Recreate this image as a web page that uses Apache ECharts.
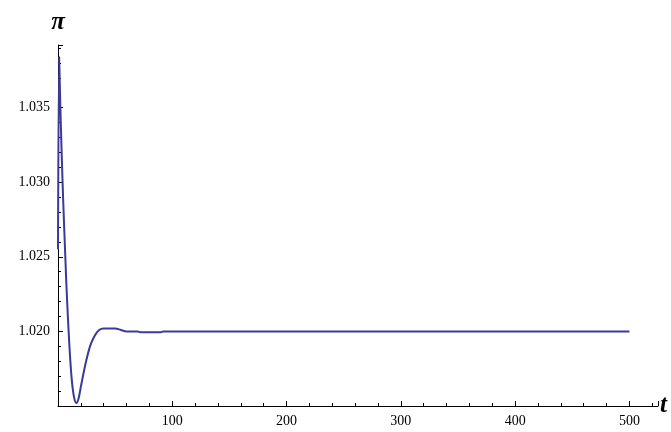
<html>
<head>
<meta charset="utf-8">
<script src="https://cdn.jsdelivr.net/npm/echarts@6/dist/echarts.min.js"></script>
</head>
<body style="margin:0;background:#fff">
<div id="main" style="width:671px;height:432px;"></div>
<script>
    // 数据
    var tValues = [0, 1, 2, 3, 4, 5, 6, 7, 8, 10, 12, 14, 16, 18, 20, 24, 28, 32, 36, 40, 45, 50, 55, 60, 70, 72, 90, 92, 500];
    var piValues = [1.0255, 1.0384, 1.0352, 1.0325, 1.0300, 1.0278, 1.0258, 1.0238, 1.0220, 1.0190, 1.0168, 1.0156, 1.0152, 1.0155, 1.0163, 1.0178, 1.0190, 1.0197, 1.0201, 1.0202, 1.0202, 1.0202, 1.0201, 1.0200, 1.0200, 1.01995, 1.01995, 1.0200, 1.0200];
    var xTicks = [100, 200, 300, 400, 500];
    var yTicks = [1.020, 1.025, 1.030, 1.035];

    var myChart = echarts.init(document.getElementById('main'));
    var font = 'Liberation Serif';
    var option = {
        animation: false,
        grid: {left: 58, right: 13, top: 45, bottom: 26},
        xAxis: {
            type: 'value', min: 0, max: 525, interval: 100,
            axisLine: {lineStyle: {color: '#000'}},
            axisTick: {lineStyle: {color: '#000'}, length: 5, inside: true},
            minorTick: {show: true, splitNumber: 5, length: 3, lineStyle: {color: '#000'}},
            splitLine: {show: false},
            axisLabel: {
                color: '#000', fontFamily: font, fontSize: 14, showMaxLabel: false,
                formatter: function (v) { return xTicks.indexOf(v) >= 0 ? v : ''; }
            },
            name: 't', nameLocation: 'end', nameGap: 2,
            nameTextStyle: {fontFamily: font, fontSize: 25, fontWeight: 'bold', fontStyle: 'italic', color: '#000', verticalAlign: 'middle', padding: [14, 0, 0, 0]}
        },
        yAxis: {
            type: 'value', min: 1.015, max: 1.0392, interval: 0.005,
            axisLine: {lineStyle: {color: '#000'}},
            axisTick: {lineStyle: {color: '#000'}, length: 5, inside: true},
            minorTick: {show: true, splitNumber: 5, length: 3, lineStyle: {color: '#000'}},
            splitLine: {show: false},
            axisLabel: {
                color: '#000', fontFamily: font, fontSize: 14, showMaxLabel: false,
                formatter: function (v) {
                    for (var i = 0; i < yTicks.length; i++) if (Math.abs(v - yTicks[i]) < 1e-6) return yTicks[i].toFixed(3);
                    return '';
                }
            },
            name: 'π', nameLocation: 'end', nameGap: 10,
            nameTextStyle: {fontFamily: font, fontSize: 25, fontWeight: 'bold', fontStyle: 'italic', color: '#000', align: 'center'}
        },
        series: [{
            type: 'line', smooth: 0.3, symbol: 'none',
            lineStyle: {color: '#3a3a9a', width: 2},
            data: tValues.map(function (t, i) { return [t, piValues[i]]; })
        }]
    };
    myChart.setOption(option);
</script>
</body>
</html>
